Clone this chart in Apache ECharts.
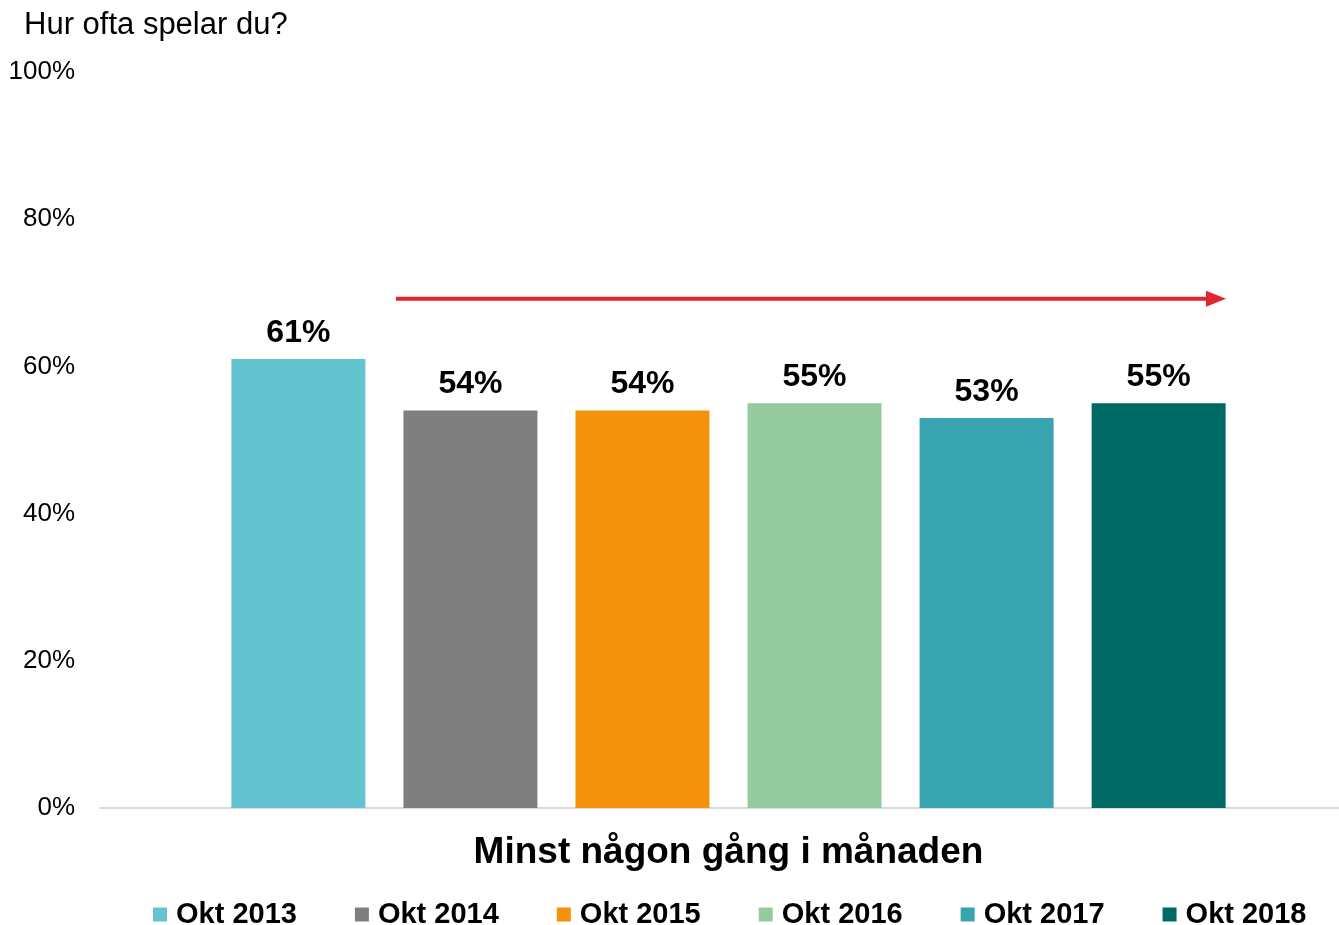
<!DOCTYPE html>
<html><head><meta charset="utf-8">
<script src="https://cdn.jsdelivr.net/npm/echarts@6/dist/echarts.min.js"></script>
<style>html,body{margin:0;padding:0;background:#fff}#c{width:1339px;height:925px}</style>
</head><body><div id="c"></div>
<script>
const categories = ['Minst någon gång i månaden'];
const seriesNames = ['Okt 2013','Okt 2014','Okt 2015','Okt 2016','Okt 2017','Okt 2018'];
const values = [61, 54, 54, 55, 53, 55];
const colors = ['#63c3cf','#7f7f7f','#f5920b','#94ca9d','#38a4b0','#006a65'];
const yTicks = [0, 20, 40, 60, 80, 100];

const FONT = '"Liberation Sans", Arial, sans-serif';
const chart = echarts.init(document.getElementById('c'), null, {renderer:'canvas'});
const series = seriesNames.map((n,i)=>({
  name:n, type:'bar', data:[values[i]], barWidth:134, barGap:'28.4%',
  xAxisIndex:0, yAxisIndex:0,
  itemStyle:{color:colors[i]},
  label:{show:true, position:'top', distance:10, formatter:'{c}%', fontFamily:FONT, fontWeight:'bold', fontSize:32, color:'#000'}
}));
chart.setOption({
  animation:false,
  title:{text:'Hur ofta spelar du?', left:19, top:5, textStyle:{fontFamily:FONT, fontWeight:'normal', fontSize:31, color:'#000'}},
  legend:{bottom:-9, left:148, itemWidth:14, itemHeight:14, itemGap:58, icon:'rect',
    textStyle:{fontFamily:FONT, fontWeight:'bold', fontSize:29, color:'#000', padding:[0,0,0,4]}, data:seriesNames},
  grid:[
    {left:118, right:0, top:72, bottom:117},
    {left:100, right:0, top:72, bottom:117}
  ],
  xAxis:[
    {gridIndex:0, type:'category', data:categories, axisTick:{show:false}, axisLine:{show:false},
     axisLabel:{fontFamily:FONT, fontWeight:'bold', fontSize:37, color:'#000', margin:26}},
    {gridIndex:1, type:'value', min:0, max:1, axisTick:{show:false}, axisLabel:{show:false}, splitLine:{show:false},
     axisLine:{show:true, lineStyle:{color:'#d9d9d9', width:2}}}
  ],
  yAxis:[
    {gridIndex:0, type:'value', min:yTicks[0], max:yTicks[yTicks.length-1], interval:20, splitLine:{show:false},
     axisLine:{show:false}, axisTick:{show:false},
     axisLabel:{formatter:'{value}%', fontFamily:FONT, fontSize:26, color:'#000', margin:43}},
    {gridIndex:1, type:'value', min:0, max:100, show:false}
  ],
  series:series
});
// red trend arrow annotation spanning bar 2 to bar 6 at ~69%
const yPix = chart.convertToPixel({yAxisIndex:0}, 69.2);
chart.setOption({graphic:[
  {type:'line', shape:{x1:396, y1:yPix, x2:1208, y2:yPix}, style:{stroke:'#e1262d', lineWidth:4}},
  {type:'polygon', shape:{points:[[1206,yPix-8],[1226,yPix],[1206,yPix+8]]}, style:{fill:'#e1262d'}}
]});
</script></body></html>
